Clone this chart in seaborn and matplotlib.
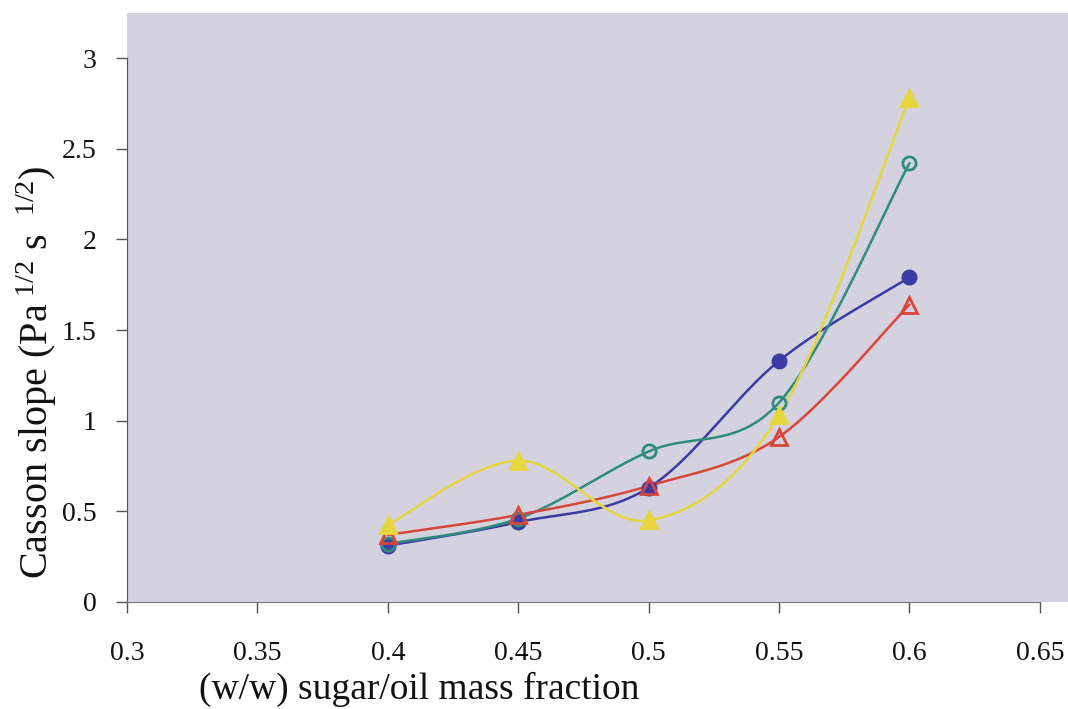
import numpy as np
import pandas as pd
import matplotlib
matplotlib.use("Agg")
import matplotlib.pyplot as plt
import seaborn as sns

# Sugar/oil mass fraction (w/w) and Casson slope for four formulations
fraction = [0.40, 0.45, 0.50, 0.55, 0.60]
slope_filled_circle = [0.31, 0.44, 0.63, 1.33, 1.79]
slope_open_circle = [0.32, 0.46, 0.83, 1.10, 2.42]
slope_open_triangle = [0.37, 0.48, 0.64, 0.91, 1.64]
slope_filled_triangle = [0.425, 0.78, 0.45, 1.03, 2.78]

x_ticks = [0.3, 0.35, 0.4, 0.45, 0.5, 0.55, 0.6, 0.65]
x_tick_labels = ["0.3", "0.35", "0.4", "0.45", "0.5", "0.55", "0.6", "0.65"]
y_ticks = [0, 0.5, 1, 1.5, 2, 2.5, 3]
y_tick_labels = ["0", "0.5", "1", "1.5", "2", "2.5", "3"]


def smooth_curve(xs, ys, steps=40):
    """Bezier smoothing through every point (spreadsheet-style smoothed line)."""
    p = np.column_stack([xs, ys]).astype(float)
    n = len(p)
    out = []
    for i in range(n - 1):
        p0 = p[i - 1] if i > 0 else p[i]
        p1, p2 = p[i], p[i + 1]
        p3 = p[i + 2] if i + 2 < n else p[i + 1]
        c1 = p1 + (p2 - p0) / 6.0
        c2 = p2 - (p3 - p1) / 6.0
        t = np.linspace(0, 1, steps, endpoint=(i == n - 2))[:, None]
        seg = ((1 - t) ** 3) * p1 + 3 * ((1 - t) ** 2) * t * c1 \
            + 3 * (1 - t) * t ** 2 * c2 + t ** 3 * p2
        out.append(seg)
    seg = np.vstack(out)
    return seg[:, 0], seg[:, 1]


series = [
    ("filled circle", slope_filled_circle, "#3b3ba6", "o", "#3b3ba6"),
    ("open circle", slope_open_circle, "#2e8c7c", "o", "none"),
    ("open triangle", slope_open_triangle, "#d8463a", "^", "none"),
    ("filled triangle", slope_filled_triangle, "#e6d53c", "^", "#e6d53c"),
]

sns.set_style("white", {"axes.facecolor": "#d4d2de"})
plt.rcParams["font.family"] = ["Liberation Serif", "DejaVu Serif"]
plt.rcParams["mathtext.fontset"] = "custom"
plt.rcParams["mathtext.rm"] = "Liberation Serif"
plt.rcParams["mathtext.it"] = "Liberation Serif"

fig = plt.figure(figsize=(10.68, 7.09), dpi=100)
ax = fig.add_axes([0.119, 0.151, 0.881, 0.831])

for name, vals, color, marker, face in series:
    cx, cy = smooth_curve(fraction, vals)
    curve = pd.DataFrame({"x": cx, "y": cy})
    sns.lineplot(data=curve, x="x", y="y", sort=False, color=color,
                 linewidth=1.8, ax=ax, zorder=2)
    pts = pd.DataFrame({"x": fraction, "y": vals})
    ms = 9.5 if marker == "o" else 11
    ax.plot(pts["x"], pts["y"], linestyle="none", marker=marker,
            markersize=ms, markerfacecolor=face, markeredgecolor=color,
            markeredgewidth=2.0, zorder=3)

ax.set_xlim(0.3, 0.6608)
ax.set_ylim(0, 3.25)
ax.set_xticks(x_ticks)
ax.set_xticklabels(x_tick_labels)
ax.set_yticks(y_ticks)
ax.set_yticklabels(y_tick_labels)
ax.tick_params(axis="both", direction="out", length=8, width=1.0,
               bottom=True, left=True,
               color="#555555", labelsize=20, labelcolor="#111111")
ax.tick_params(axis="x", pad=20)
ax.tick_params(axis="y", pad=14)

for side in ["top", "right"]:
    ax.spines[side].set_visible(False)
ax.spines["left"].set_color("#555555")
ax.spines["bottom"].set_color("#777777")
ax.spines["left"].set_bounds(0, 3)
ax.spines["bottom"].set_bounds(0.3, 0.65)

ax.set_xlabel("(w/w) sugar/oil mass fraction", fontsize=27, color="#111111")
ax.set_ylabel(r"Casson slope (Pa$^{\ 1/2}$ s $^{\ 1/2}$)", fontsize=29,
              color="#111111")
ax.xaxis.set_label_coords(0.31, -0.118)
ax.yaxis.set_label_coords(-0.072, 0.39)

fig.savefig("out.png", dpi=100)
